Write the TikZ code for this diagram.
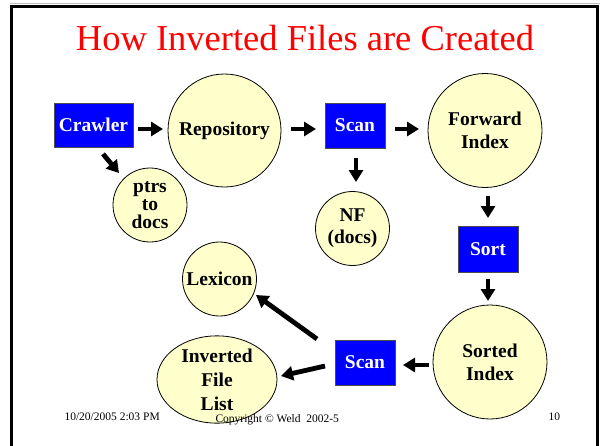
\documentclass[tikz,border=0pt]{standalone}
\usepackage{fontspec}
\setmainfont{Liberation Serif}
\usetikzlibrary{arrows.meta,shapes.geometric}
\definecolor{cyel}{RGB}{255,255,204}
\tikzset{
  bluebox/.style={draw=black!70,line width=0.8pt,fill=blue,text=white,font=\fontsize{19.5}{22}\selectfont\bfseries,minimum width=60pt,minimum height=45pt,inner sep=0pt},
  blob/.style={circle,draw=black,line width=0.8pt,fill=cyel,font=\fontsize{19.5}{23}\selectfont\bfseries,align=center,inner sep=0pt},
  bigarrow/.style={line width=4.8pt,-{Triangle[width=14pt,length=12pt]}},
  foot/.style={font=\fontsize{11.5}{13}\selectfont,anchor=base west}
}
\begin{document}
\begin{tikzpicture}[x=1pt,y=-1pt]
\useasboundingbox (0,0) rectangle (600,445);
\fill[white] (0,0) rectangle (600,445);
\draw[black!25,line width=1.2pt] (10,3.5) -- (600,3.5);
\draw[black,line width=3pt] (11,460) -- (11,6.5) -- (597,6.5) -- (597,460);
\node[text=red,font=\fontsize{36.5}{40}\selectfont] (title) at (305,38) {How Inverted Files are Created};
% nodes
\node[bluebox,minimum width=79pt,minimum height=44pt] (crawler) at (93.5,125) {Crawler};
\node[blob,minimum size=113pt] (repo) at (224.5,130.5) {Repository};
\node[blob,minimum size=74pt,font=\fontsize{19.5}{18}\selectfont\bfseries] (ptrs) at (150,205) {ptrs\\to\\docs};
\node[bluebox] (scan1) at (355,125.5) {Scan};
\node[blob,minimum size=114pt] (fwd) at (485,130.5) {Forward\\Index};
\node[blob,minimum size=74pt,font=\fontsize{19.5}{22}\selectfont\bfseries] (nf) at (352.5,228.5) {NF\\(docs)};
\node[bluebox,minimum height=46pt] (sort) at (488,249) {Sort};
\node[blob,minimum size=114pt] (sorted) at (490,362) {Sorted\\Index};
\node[bluebox] (scan2) at (365,362.5) {Scan};
\node[blob,minimum size=74pt] (lex) at (219.5,279) {Lexicon};
\node[ellipse,draw=black,line width=0.8pt,fill=cyel,minimum width=120pt,minimum height=87pt,inner sep=0pt,align=center,font=\fontsize{19.5}{24}\selectfont\bfseries] (inv) at (217,379.5) {Inverted\\File\\List};
% arrow end points (arrows stop short of the shapes)
\coordinate (a1s) at (138,129); \coordinate (a1e) at (163,129);
\coordinate (a2s) at (103,154); \coordinate (a2e) at (119,173);
\coordinate (a3s) at (291,129); \coordinate (a3e) at (316,129);
\coordinate (a4s) at (395,129); \coordinate (a4e) at (419,129);
\coordinate (a5s) at (356,158); \coordinate (a5e) at (356,182);
\coordinate (a6s) at (488,196); \coordinate (a6e) at (488,218);
\coordinate (a7s) at (488,279); \coordinate (a7e) at (488,301);
\coordinate (a8s) at (429,365); \coordinate (a8e) at (403,365);
\coordinate (a9s) at (325,366); \coordinate (a9e) at (281,376);
\coordinate (a10s) at (317,339); \coordinate (a10e) at (256,295);
\draw[bigarrow] (a1s) -- (a1e);
\draw[bigarrow] (a2s) -- (a2e);
\draw[bigarrow] (a3s) -- (a3e);
\draw[bigarrow] (a4s) -- (a4e);
\draw[bigarrow] (a5s) -- (a5e);
\draw[bigarrow] (a6s) -- (a6e);
\draw[bigarrow] (a7s) -- (a7e);
\draw[bigarrow] (a8s) -- (a8e);
\draw[bigarrow] (a9s) -- (a9e);
\draw[bigarrow] (a10s) -- (a10e);
% footer
\node[foot] (date) at (61,420.5) {10/20/2005 2:03 PM};
\node[foot] (copy) at (212,422) {Copyright \textcopyright{} Weld\ \ 2002-5};
\node[foot] (page) at (545,420.5) {10};
\end{tikzpicture}
\end{document}
